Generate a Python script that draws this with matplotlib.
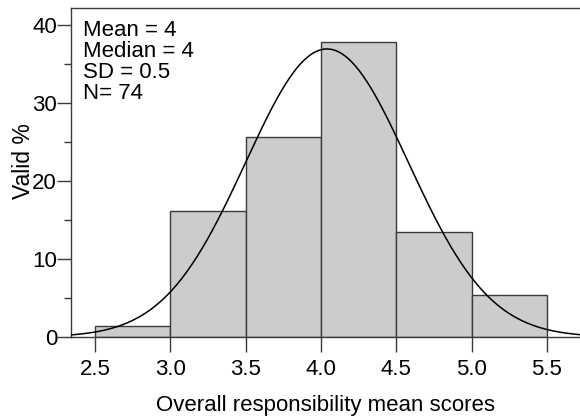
"""
Histogram of overall responsibility mean scores with normal curve.
"""

import numpy as np
import matplotlib.pyplot as plt

plt.rcParams['font.family'] = ['Liberation Sans', 'DejaVu Sans']

# datos
bin_edges = [2.5, 3.0, 3.5, 4.0, 4.5, 5.0, 5.5]
valid_pct = [1.35, 16.2, 25.7, 37.8, 13.5, 5.4]
x_ticks = [2.5, 3.0, 3.5, 4.0, 4.5, 5.0, 5.5]
y_ticks = [0, 10, 20, 30, 40]
stats_lines = ["Mean = 4", "Median = 4", "SD = 0.5", "N= 74"]

curve_mean = 4.04
curve_sd = 0.54
bin_width = 0.5

fig = plt.figure(figsize=(5.8, 4.17), dpi=100)
ax = fig.add_axes([0.1224, 0.192, 0.8776, 0.789])

edge_col = "#3a3a3a"
lefts = bin_edges[:-1]
ax.bar(lefts, valid_pct, width=bin_width, align="edge",
       color="#cccccc", edgecolor=edge_col, linewidth=1.0, zorder=2)

xlim = (2.34, 5.72)
xs = np.linspace(xlim[0], xlim[1], 400)
ys = 100 * bin_width * np.exp(-0.5 * ((xs - curve_mean) / curve_sd) ** 2) / (curve_sd * np.sqrt(2 * np.pi))
ax.plot(xs, ys, color="black", linewidth=1.1, zorder=3)

ax.set_xlim(*xlim)
ax.set_ylim(0, 42.2)
ax.set_xticks(x_ticks)
ax.set_xticklabels([f"{t:.1f}" for t in x_ticks])
ax.set_yticks(y_ticks)
ax.set_yticks([5, 15, 25, 35], minor=True)

ax.spines["right"].set_visible(False)
for s in ["left", "top", "bottom"]:
    ax.spines[s].set_color(edge_col)
    ax.spines[s].set_linewidth(1.0)

fs = 16
ax.tick_params(axis="x", direction="out", length=11, width=1.0, color=edge_col,
               labelsize=fs, pad=5)
ax.tick_params(axis="y", which="major", direction="out", length=10, width=1.0,
               color=edge_col, labelsize=fs, pad=0)
ax.tick_params(axis="y", which="minor", direction="out", length=5, width=1.0,
               color=edge_col)

ax.set_xlabel("Overall responsibility mean scores", fontsize=fs, labelpad=10.5)
ax.set_ylabel("Valid %", fontsize=16.5)
ax.yaxis.set_label_coords(-0.071, 0.535)

ax.text(0.023, 0.962, "\n".join(stats_lines), transform=ax.transAxes,
        ha="left", va="top", fontsize=fs, linespacing=1.0)

fig.savefig("out.png", dpi=100)
